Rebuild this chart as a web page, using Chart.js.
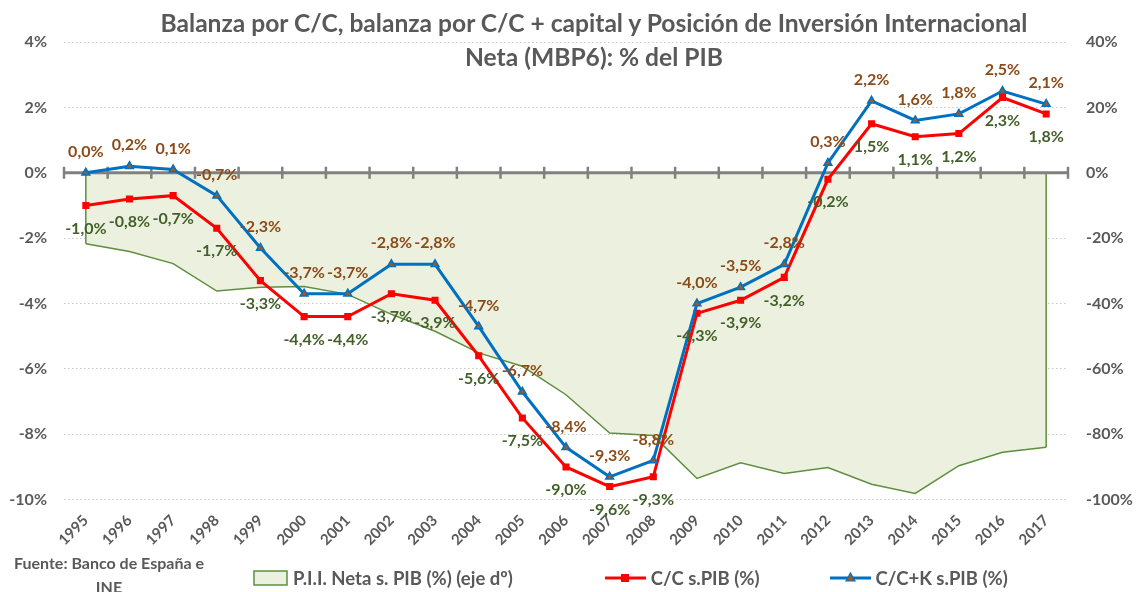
<!DOCTYPE html>
<html>
<head>
<meta charset="utf-8">
<script src="https://cdn.jsdelivr.net/npm/chart.js@4.4.1/dist/chart.umd.min.js"></script>
<style>
  html, body { margin: 0; padding: 0; background: #fff; }
  #wrap { position: relative; width: 1137px; height: 592px; font-family: Lato, sans-serif; color: #595959; }
  #wrap canvas { position: absolute; left: 0; top: 0; }
  #titulo { position: absolute; left: 50px; top: 6px; width: 1088px; text-align: center;
            font-weight: bold; font-size: 24.6px; line-height: 34px; color: #595959; }
  #fuente { position: absolute; left: 0px; top: 551px; width: 218px; text-align: center;
            font-weight: bold; font-size: 16px; line-height: 24px; color: #595959; }
  #leyenda { position: absolute; left: 253px; top: 567px; display: flex; align-items: center;
             font-weight: bold; font-size: 18.5px; color: #595959; }
  #leyenda .item { display: flex; align-items: center; }
  #leyenda svg { margin-right: 5px; }
</style>
</head>
<body>
<div id="wrap">
  <canvas id="chartBalanza" width="1137" height="592"></canvas>
  <div id="titulo">Balanza por C/C, balanza por C/C + capital y Posición de Inversión Internacional<br>Neta (MBP6): % del PIB</div>
  <div id="fuente">Fuente: Banco de España e<br>INE</div>
  <div id="leyenda">
    <div class="item" style="margin-right: 92px;">
      <svg width="35" height="18"><rect x="1" y="2" width="33" height="14" fill="#EBF1DE" stroke="#5E8E3E" stroke-width="1.5"/></svg>
      <span>P.I.I. Neta s. PIB (%) (eje dº)</span>
    </div>
    <div class="item" style="margin-right: 70px;">
      <svg width="41" height="18"><line x1="0" y1="9" x2="41" y2="9" stroke="#FF0000" stroke-width="3"/><rect x="16" y="5" width="8" height="8" fill="#FF0000"/></svg>
      <span>C/C s.PIB (%)</span>
    </div>
    <div class="item">
      <svg width="41" height="18"><line x1="0" y1="9" x2="41" y2="9" stroke="#0070C0" stroke-width="3"/><polygon points="20.5,4 25,12 16,12" fill="#9C5B26" stroke="#0070C0" stroke-width="1.2"/></svg>
      <span>C/C+K s.PIB (%)</span>
    </div>
  </div>
</div>

<script>
// datos
const anios = ['1995','1996','1997','1998','1999','2000','2001','2002','2003','2004','2005',
               '2006','2007','2008','2009','2010','2011','2012','2013','2014','2015','2016','2017'];

// C/C s.PIB (%)
const ccPib = [-1.0, -0.8, -0.7, -1.7, -3.3, -4.4, -4.4, -3.7, -3.9, -5.6, -7.5,
               -9.0, -9.6, -9.3, -4.3, -3.9, -3.2, -0.2, 1.5, 1.1, 1.2, 2.3, 1.8];

// C/C+K s.PIB (%)
const cckPib = [0.0, 0.2, 0.1, -0.7, -2.3, -3.7, -3.7, -2.8, -2.8, -4.7, -6.7,
                -8.4, -9.3, -8.8, -4.0, -3.5, -2.8, 0.3, 2.2, 1.6, 1.8, 2.5, 2.1];

// P.I.I. Neta s. PIB (%) - eje derecho
const piiPib = [-21.7, -24.1, -27.8, -36.2, -35.0, -34.8, -37.2, -43.3, -48.5, -55.1, -59.2,
                -67.9, -79.6, -80.4, -93.5, -88.7, -92.0, -90.2, -95.3, -98.1, -89.6, -85.5, -84.0];

const GRIS = '#595959';
const FUENTE = 'Lato, sans-serif';

function fmtPct(v) {
    return v.toFixed(1).replace('.', ',') + '%';
}

/* ==============================
   EJE CERO + BORDES DEL ÁREA
================================ */
const ejeCero = {
    id: 'ejeCero',
    afterDatasetDraw(chart, args) {
        if (args.index !== 0) return; // después del área
        const ctx = chart.ctx;
        const x = chart.scales.x;
        const y = chart.scales.y;
        const y2 = chart.scales.y2;
        const area = chart.chartArea;

        // bordes verticales del área
        const n = piiPib.length;
        ctx.save();
        ctx.strokeStyle = '#5E8E3E';
        ctx.lineWidth = 1.5;
        ctx.beginPath();
        ctx.moveTo(x.getPixelForValue(0), y2.getPixelForValue(0));
        ctx.lineTo(x.getPixelForValue(0), y2.getPixelForValue(piiPib[0]));
        ctx.moveTo(x.getPixelForValue(n - 1), y2.getPixelForValue(0));
        ctx.lineTo(x.getPixelForValue(n - 1), y2.getPixelForValue(piiPib[n - 1]));
        ctx.stroke();

        // línea del cero con marcas
        const py = y.getPixelForValue(0);
        const medio = (x.getPixelForValue(1) - x.getPixelForValue(0)) / 2;
        ctx.strokeStyle = '#808080';
        ctx.lineWidth = 3;
        ctx.beginPath();
        ctx.moveTo(area.left, py);
        ctx.lineTo(area.right, py);
        ctx.stroke();
        ctx.lineWidth = 2.5;
        ctx.beginPath();
        for (let i = 0; i <= n; i++) {
            const px = x.getPixelForValue(i) - medio;
            ctx.moveTo(px, py - 6);
            ctx.lineTo(px, py + 6);
        }
        ctx.stroke();
        ctx.restore();
    }
};

/* ==============================
   ETIQUETAS DE DATOS
================================ */
const etiquetas = {
    id: 'etiquetas',
    afterDatasetsDraw(chart) {
        const ctx = chart.ctx;
        ctx.save();
        ctx.font = 'bold 16px ' + FUENTE;
        ctx.textAlign = 'center';
        ctx.textBaseline = 'middle';

        const series = [
            { idx: 2, datos: cckPib, color: '#8C4A17', dy: -21 },
            { idx: 1, datos: ccPib, color: '#44602A', dy: 23 }
        ];
        series.forEach(s => {
            const meta = chart.getDatasetMeta(s.idx);
            ctx.fillStyle = s.color;
            meta.data.forEach((pt, i) => {
                ctx.fillText(fmtPct(s.datos[i]), pt.x, pt.y + s.dy);
            });
        });
        ctx.restore();
    }
};

new Chart(document.getElementById('chartBalanza'), {
    type: 'line',
    data: {
        labels: anios,
        datasets: [
            {
                label: 'P.I.I. Neta s. PIB (%) (eje dº)',
                data: piiPib,
                yAxisID: 'y2',
                fill: 'origin',
                backgroundColor: '#EBF1DE',
                borderColor: '#5E8E3E',
                borderWidth: 1.5,
                pointRadius: 0,
                tension: 0,
                order: 2
            },
            {
                label: 'C/C s.PIB (%)',
                data: ccPib,
                yAxisID: 'y',
                borderColor: '#FF0000',
                backgroundColor: '#FF0000',
                borderWidth: 3,
                pointStyle: 'rect',
                pointRadius: 5,
                pointBorderWidth: 0,
                tension: 0,
                order: 1
            },
            {
                label: 'C/C+K s.PIB (%)',
                data: cckPib,
                yAxisID: 'y',
                borderColor: '#0070C0',
                backgroundColor: '#9C5B26',
                pointBackgroundColor: '#9C5B26',
                pointBorderColor: '#0070C0',
                borderWidth: 3,
                pointStyle: 'triangle',
                pointRadius: 4.5,
                pointBorderWidth: 1.5,
                tension: 0,
                order: 0
            }
        ]
    },
    options: {
        responsive: false,
        animation: false,
        layout: { padding: { top: 42, bottom: 39, left: 9, right: 4 } },
        plugins: {
            legend: { display: false },
            title: { display: false },
            tooltip: { enabled: false }
        },
        scales: {
            x: {
                type: 'category',
                offset: true,
                grid: { display: false },
                border: { display: false },
                ticks: {
                    color: GRIS,
                    font: { family: FUENTE, size: 15, weight: 'bold' },
                    minRotation: 45,
                    maxRotation: 45,
                    autoSkip: false,
                    padding: 4
                }
            },
            y: {
                position: 'left',
                min: -10,
                max: 4,
                afterFit: s => { s.width = 55; },
                ticks: {
                    stepSize: 2,
                    color: GRIS,
                    font: { family: FUENTE, size: 16, weight: 'bold' },
                    padding: 17,
                    callback: v => v + '%'
                },
                grid: {
                    color: '#C8C8C8',
                    drawTicks: false
                },
                border: { display: false, dash: [1.5, 2.5] }
            },
            y2: {
                position: 'right',
                min: -100,
                max: 40,
                afterFit: s => { s.width = 65; },
                ticks: {
                    stepSize: 20,
                    color: GRIS,
                    font: { family: FUENTE, size: 16, weight: 'bold' },
                    padding: 18,
                    callback: v => v + '%'
                },
                grid: { display: false, drawTicks: false },
                border: { display: false }
            }
        }
    },
    plugins: [ejeCero, etiquetas]
});
</script>
</body>
</html>
